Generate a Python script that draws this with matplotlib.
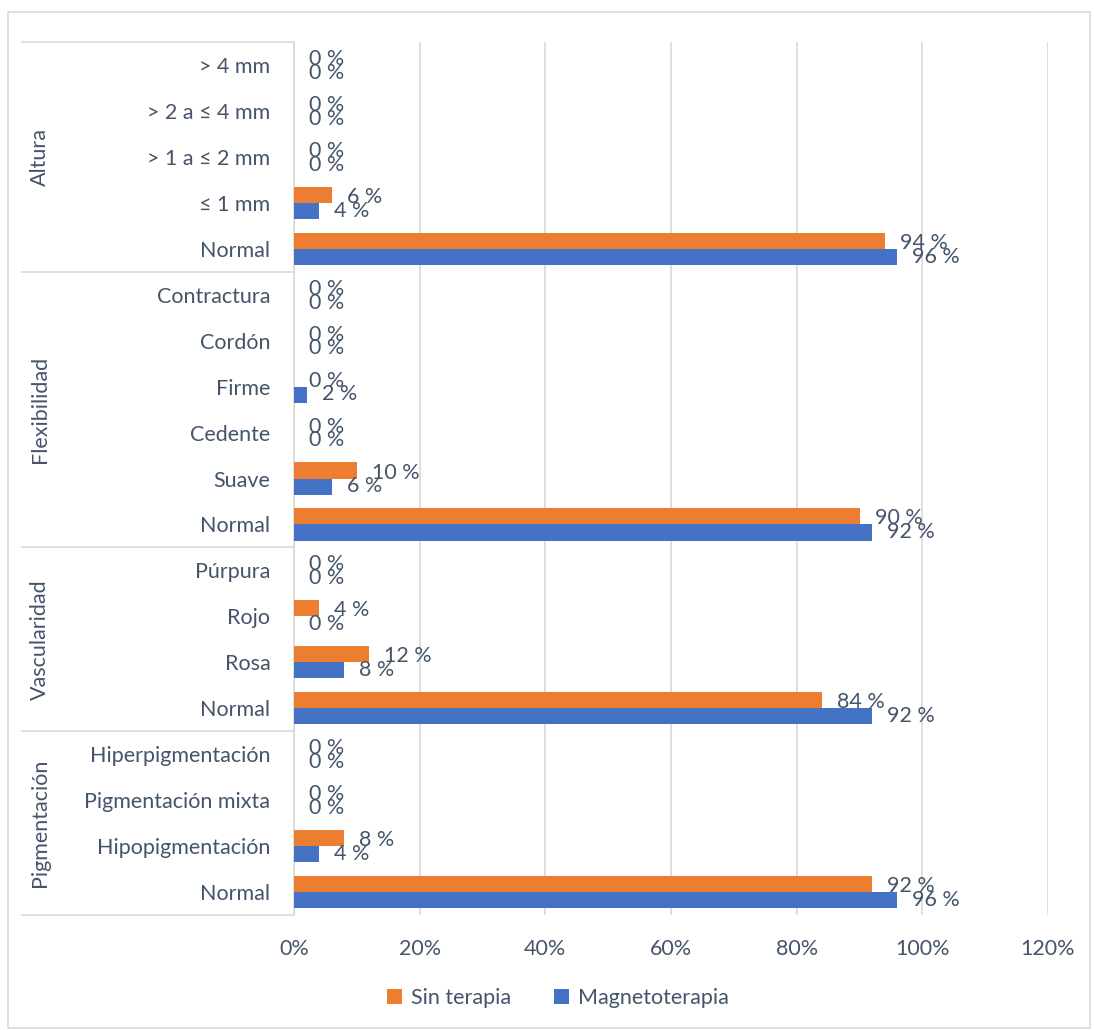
import matplotlib
matplotlib.use("Agg")
import matplotlib.pyplot as plt
from matplotlib.patches import Rectangle

plt.rcParams['font.family'] = ['Lato', 'DejaVu Sans']

groups = ["Altura", "Flexibilidad", "Vascularidad", "Pigmentación"]
categories = [
    ["> 4 mm", "> 2 a ≤ 4 mm", "> 1 a ≤ 2 mm", "≤ 1 mm", "Normal"],
    ["Contractura", "Cordón", "Firme", "Cedente", "Suave", "Normal"],
    ["Púrpura", "Rojo", "Rosa", "Normal"],
    ["Hiperpigmentación", "Pigmentación mixta", "Hipopigmentación", "Normal"],
]
sin_terapia = [
    [0, 0, 0, 6, 94],
    [0, 0, 0, 0, 10, 90],
    [0, 4, 12, 84],
    [0, 0, 8, 92],
]
magneto = [
    [0, 0, 0, 4, 96],
    [0, 0, 2, 0, 6, 92],
    [0, 0, 8, 92],
    [0, 0, 4, 96],
]

txt = '#44546A'
orange = '#ED7D31'
blue = '#4472C4'
grid = '#D9D9D9'
fs = 15.5

labels = [c for g in categories for c in g]
s_vals = [v for g in sin_terapia for v in g]
m_vals = [v for g in magneto for v in g]
n = len(labels)

fig = plt.figure(figsize=(10.94, 10.30), dpi=100)
ax = fig.add_axes([294 / 1094, 1 - 915 / 1030, 754 / 1094, 873 / 1030])

h = 0.35
ys = list(range(n))
ax.barh([y - h / 2 for y in ys], s_vals, height=h, color=orange, label="Sin terapia", zorder=3)
ax.barh([y + h / 2 for y in ys], m_vals, height=h, color=blue, label="Magnetoterapia", zorder=3)

for y, s, m in zip(ys, s_vals, m_vals):
    ax.text(s + 2.4, y - 0.13, f"{s} %", color=txt, fontsize=fs, va='center', ha='left')
    ax.text(m + 2.4, y + 0.17, f"{m} %", color=txt, fontsize=fs, va='center', ha='left')

ax.set_ylim(n - 0.5, -0.5)
ax.set_xlim(0, 120)
ax.set_xticks(range(0, 121, 20))
ax.set_xticklabels([f"{t}%" for t in range(0, 121, 20)])
ax.set_yticks(ys)
ax.set_yticklabels(labels)
ax.tick_params(axis='y', length=0, pad=17, labelsize=fs, labelcolor=txt)
ax.tick_params(axis='x', length=0, pad=17, labelsize=fs, labelcolor=txt)
ax.grid(axis='x', color=grid, lw=1.2, zorder=0)
for sp in ['top', 'right', 'bottom']:
    ax.spines[sp].set_visible(False)
ax.spines['left'].set_color(grid)
ax.spines['left'].set_linewidth(1.2)

# group separators and group labels
x_left = (22 - 294) / 754
bounds = [-0.5]
for g in categories:
    bounds.append(bounds[-1] + len(g))
for b in bounds:
    ax.plot([x_left, 0], [b, b], transform=ax.get_yaxis_transform(), color=grid, lw=1.2, clip_on=False)
x_grp = (40 - 294) / 754
for g, b0, b1 in zip(groups, bounds[:-1], bounds[1:]):
    ax.text(x_grp, (b0 + b1) / 2, g, transform=ax.get_yaxis_transform(), rotation=90,
            ha='center', va='center', color=txt, fontsize=fs)

fig.legend(loc='center', bbox_to_anchor=(558 / 1094, 1 - 998 / 1030), ncol=2, frameon=False,
           fontsize=fs, labelcolor=txt, handlelength=0.7, handleheight=0.7, columnspacing=2.0,
           handletextpad=0.4)

fig.patches.append(Rectangle((8 / 1094, 2 / 1030), 1082 / 1094, 1016 / 1030, transform=fig.transFigure,
                             fill=False, edgecolor=grid, lw=1.2))

fig.savefig("out.png", dpi=100, facecolor='white')
